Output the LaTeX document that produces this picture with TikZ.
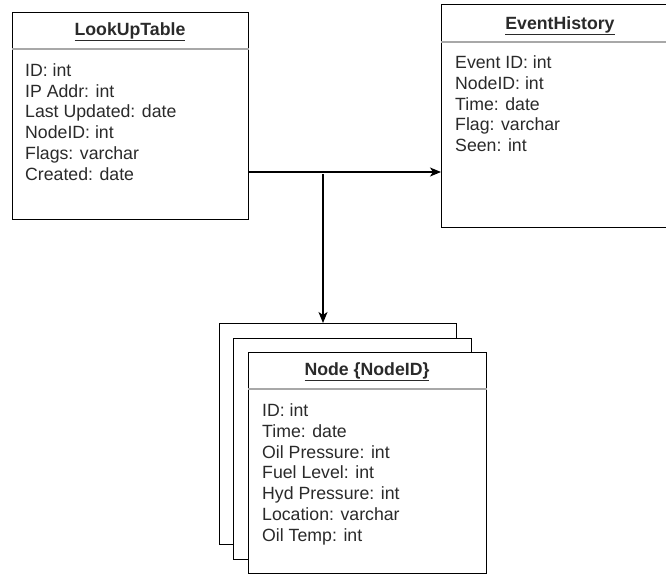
\documentclass[tikz,border=0pt]{standalone}
\usepackage{fontspec}
\setmainfont{Liberation Sans}
\usetikzlibrary{arrows.meta}
\definecolor{txt}{HTML}{2A2A2A}
\definecolor{sepc}{HTML}{A8A8A8}
\newcommand{\fs}{\fontsize{17.7pt}{20.7pt}\selectfont}
\tikzset{
  cls/.style={draw=black, line width=1.4pt, fill=white, inner sep=0pt, anchor=north west},
  sepline/.style={draw=sepc, line width=1.2pt},
  ttl/.style={font=\fs\bfseries, anchor=base, text=txt, inner sep=0pt},
  body/.style={font=\fs, anchor=base west, align=left, text=txt, inner sep=0pt},
  conn/.style={draw=black, line width=1.2pt, -{Stealth[length=11pt,width=9pt,inset=3pt]}}
}
\begin{document}
\begin{tikzpicture}[x=1pt,y=-1pt]
\useasboundingbox (0,0) rectangle (666,574);
\clip (0,0) rectangle (666,574);
\fill[white] (0,0) rectangle (666,574);
% LookUpTable
\node[cls, minimum width=236pt, minimum height=207pt] (lut) at (12,12) {};
\draw[sepline] (lut.west |- 0,49) coordinate (lutsepL) -- (lut.east |- 0,49) coordinate (lutsepR);
\node[ttl] (luttitle) at (130,35.5) {\underline{LookUpTable}};
\node[body] (lutbody) at (25,180) {ID: int\\IP Addr: int\\Last Updated: date\\NodeID: int\\Flags: varchar\\Created: date};
% EventHistory
\node[cls, minimum width=238pt, minimum height=223pt] (eh) at (441,4) {};
\draw[sepline] (eh.west |- 0,42) coordinate (ehsepL) -- (eh.east |- 0,42) coordinate (ehsepR);
\node[ttl] (ehtitle) at (560,29.5) {\underline{EventHistory}};
\node[body] (ehbody) at (455,151.5) {Event ID: int\\NodeID: int\\Time: date\\Flag: varchar\\Seen: int};
% Node stack
\node[cls, minimum width=237pt, minimum height=221pt] (nback) at (219,323) {};
\node[cls, minimum width=238pt, minimum height=221pt] (nmid) at (233,338) {};
\node[cls, minimum width=238pt, minimum height=221pt] (nfront) at (248,352) {};
\draw[sepline] (nfront.west |- 0,389) coordinate (nsepL) -- (nfront.east |- 0,389) coordinate (nsepR);
\node[ttl] (ntitle) at (367,375.5) {\underline{Node \{NodeID\}}};
\node[body] (nbody) at (262,541) {ID: int\\Time: date\\Oil Pressure: int\\Fuel Level: int\\Hyd Pressure: int\\Location: varchar\\Oil Temp: int};
% connectors
\coordinate (j) at (323,172);
\coordinate (jv) at (323,174);
\draw[conn] (lut.east |- j) -- (eh.west |- j);
\draw[conn] (jv) -- (jv |- nback.north);
\end{tikzpicture}
\end{document}
